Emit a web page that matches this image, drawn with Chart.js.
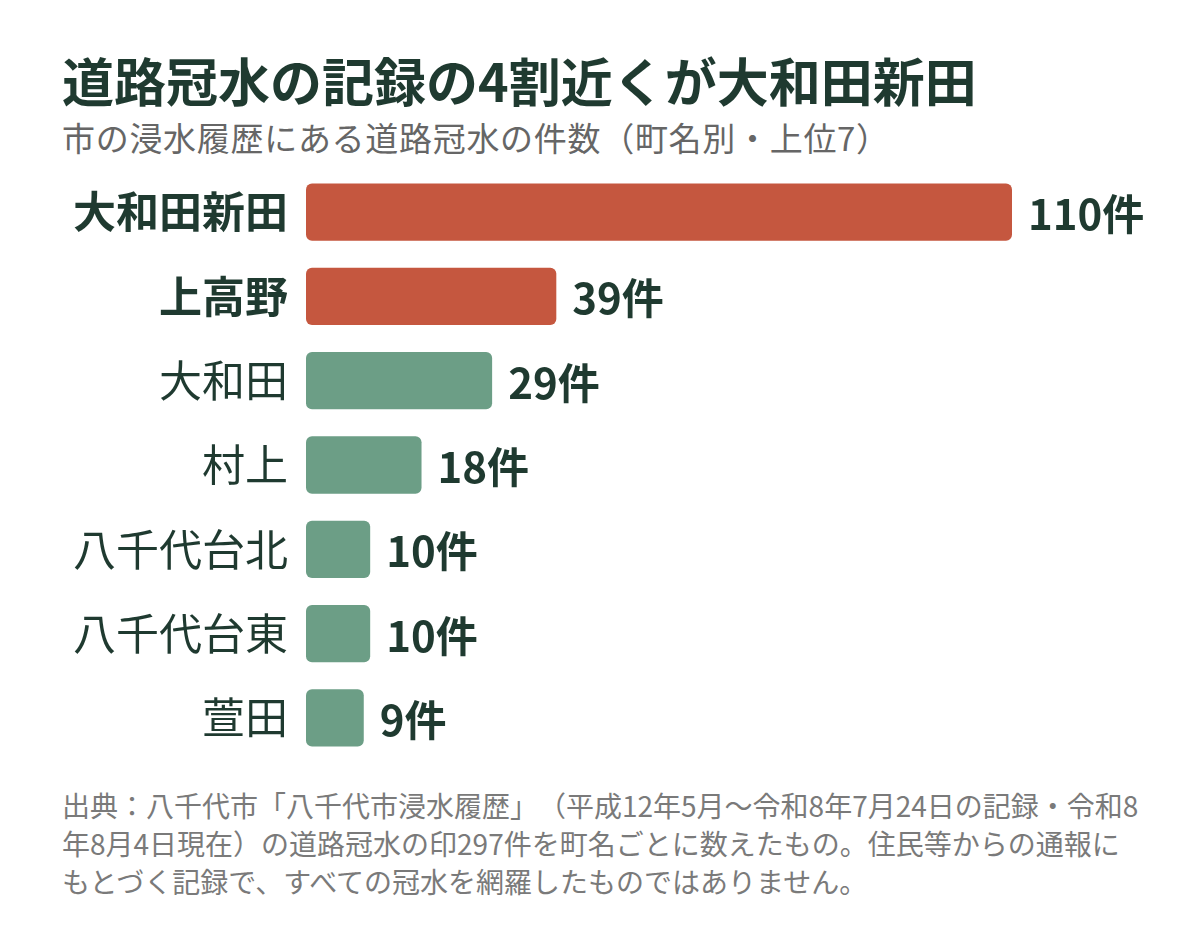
<!DOCTYPE html>
<html lang="ja">
<head>
<meta charset="utf-8">
<script src="https://cdn.jsdelivr.net/npm/chart.js@4/dist/chart.umd.min.js"></script>
<style>
  html, body { margin: 0; padding: 0; background: #fff; }
  body { width: 1200px; height: 930px; position: relative; overflow: hidden;
         font-family: "Noto Sans CJK JP", "Noto Sans", sans-serif; }
  .title { position: absolute; left: 62px; top: 52px; font-size: 52px; line-height: 56px;
           font-weight: 700; color: #1f3a30; white-space: nowrap; }
  .sub { position: absolute; left: 62px; top: 119px; font-size: 33px; line-height: 36px;
         color: #666; white-space: nowrap; text-spacing-trim: space-all; letter-spacing: 0.7px; }
  .chart-box { position: absolute; left: 0; top: 170px; width: 1200px; height: 590px; }
  .note { position: absolute; left: 62px; top: 786px; font-size: 28px; line-height: 38px;
          color: #7a7a7a; white-space: nowrap; text-spacing-trim: space-all; }
</style>
</head>
<body>
<div class="title">道路冠水の記録の4割近くが大和田新田</div>
<div class="sub">市の浸水履歴にある道路冠水の件数（町名別・上位7）</div>
<div class="chart-box"><canvas id="floodChart"></canvas></div>
<div class="note">出典：八千代市「八千代市浸水履歴」（平成12年5月～令和8年7月24日の記録・令和8<br>年8月4日現在）の道路冠水の印297件を町名ごとに数えたもの。住民等からの通報に<br>もとづく記録で、すべての冠水を網羅したものではありません。</div>

<script>
var towns = ['大和田新田', '上高野', '大和田', '村上', '八千代台北', '八千代台東', '萱田'];
var counts = [110, 39, 29, 18, 10, 10, 9];
var highlighted = [true, true, false, false, false, false, false];
var unit = '件';

(function () {
    var DARK = '#1f3a30';
    var RED = '#c5573f';
    var GREEN = '#6c9e86';
    var FONT = '"Noto Sans CJK JP", "Noto Sans", sans-serif';

    // writes "110件" etc. just past the end of each bar
    var valueLabels = {
        id: 'valueLabels',
        afterDatasetsDraw: function (chart) {
            var ctx = chart.ctx;
            var meta = chart.getDatasetMeta(0);
            ctx.save();
            ctx.fillStyle = DARK;
            ctx.font = '700 42px ' + FONT;
            ctx.textBaseline = 'middle';
            ctx.textAlign = 'left';
            meta.data.forEach(function (bar, i) {
                ctx.fillText(counts[i] + unit, bar.x + 16, bar.y + 2);
            });
            ctx.restore();
        }
    };

    var canvas = document.getElementById('floodChart');
    new Chart(canvas, {
        type: 'bar',
        data: {
            labels: towns,
            datasets: [{
                data: counts,
                backgroundColor: highlighted.map(function (h) { return h ? RED : GREEN; }),
                borderRadius: 6,
                borderSkipped: false,
                barPercentage: 0.68,
                categoryPercentage: 1
            }]
        },
        options: {
            indexAxis: 'y',
            responsive: true,
            maintainAspectRatio: false,
            animation: false,
            layout: { padding: { left: 0, right: 188, top: 0, bottom: 0 } },
            plugins: { legend: { display: false }, tooltip: { enabled: false } },
            scales: {
                x: {
                    display: false,
                    min: 0,
                    max: Math.max.apply(null, counts)
                },
                y: {
                    grid: { display: false, drawTicks: false },
                    border: { display: false },
                    afterFit: function (scale) {
                        scale.width = 306;
                        // no extra room for half-labels at top/bottom
                        scale.paddingTop = 0;
                        scale.paddingBottom = 0;
                    },
                    ticks: {
                        padding: 18,
                        color: DARK,
                        font: function (c) {
                            return {
                                family: FONT,
                                size: 43,
                                weight: highlighted[c.index] ? '700' : '400'
                            };
                        }
                    }
                }
            }
        },
        plugins: [valueLabels]
    });
})();
</script>
</body>
</html>
